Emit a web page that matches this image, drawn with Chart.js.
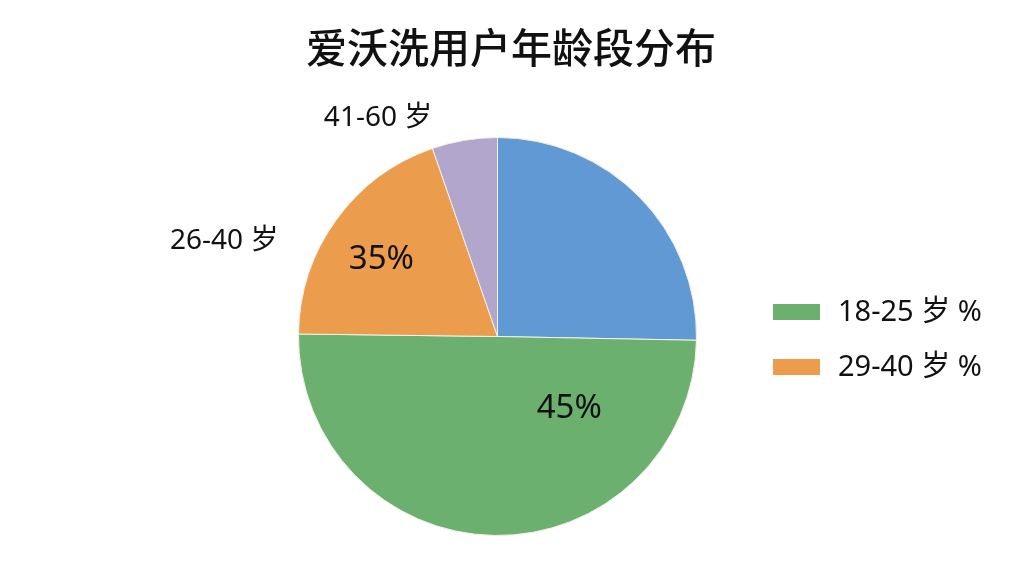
<!DOCTYPE html>
<html><head><meta charset="utf-8">
<script src="https://cdn.jsdelivr.net/npm/chart.js@4.4.1/dist/chart.umd.min.js"></script>
<style>html,body{margin:0;padding:0;background:#fff;}#wrap{width:1024px;height:576px;position:relative;}</style>
</head><body><div id="wrap"><canvas id="c" width="1024" height="576"></canvas></div>
<script>
const title = '爱沃洗用户年龄段分布';
const categories = ['18-25 岁', '26-40 岁(上)', '26-40 岁', '41-60 岁'];
const values = [25.3, 49.9, 19.5, 5.3];
const colors = ['#6199d4', '#6cb070', '#eb9d4d', '#b3a6cc'];
const sliceTexts = ['', '45%', '35%', ''];
const outerTexts = ['', '', '26-40 岁', '41-60 岁'];
const legendTexts = ['18-25 岁 %', '29-40 岁 %'];
const legendColors = ['#6cb070', '#eb9d4d'];

const FONT = '"Noto Sans", "Noto Sans CJK SC", sans-serif';

const labelPlugin = {
  id: 'labelPlugin',
  afterDraw(chart, args, opts) {
    const ctx = chart.ctx;
    const meta = chart.getDatasetMeta(0);
    ctx.save();
    ctx.fillStyle = '#111';
    ctx.textAlign = 'center';
    ctx.textBaseline = 'middle';
    // title
    ctx.font = '500 41px "Noto Sans CJK SC", sans-serif';
    ctx.fillText(title, opts.titleX, opts.titleY);
    meta.data.forEach((arc, i) => {
      const p = opts.place[i];
      if (!p) return;
      const a = (p.angle - 90) * Math.PI / 180;
      if (sliceTexts[i]) {
        ctx.font = p.inSize + 'px ' + FONT;
        ctx.fillText(sliceTexts[i], arc.x + Math.cos(a) * arc.outerRadius * p.inR, arc.y + Math.sin(a) * arc.outerRadius * p.inR);
      }
      if (outerTexts[i]) {
        const b = (p.outAngle - 90) * Math.PI / 180;
        ctx.font = '28px ' + FONT;
        ctx.fillText(outerTexts[i], arc.x + Math.cos(b) * arc.outerRadius * p.outR, arc.y + Math.sin(b) * arc.outerRadius * p.outR);
      }
    });
    // legend
    ctx.textAlign = 'left';
    ctx.font = '29px ' + FONT;
    legendTexts.forEach((t, i) => {
      const y = opts.legendY + i * opts.legendGap;
      ctx.fillStyle = legendColors[i];
      ctx.fillRect(opts.legendX, y - 8, 47, 16);
      ctx.fillStyle = '#111';
      ctx.fillText(t, opts.legendX + 65, y + 1);
    });
    ctx.restore();
  }
};

new Chart(document.getElementById('c'), {
  type: 'pie',
  data: {
    labels: categories,
    datasets: [{
      data: values,
      backgroundColor: colors,
      borderColor: '#f4f1ea',
      borderWidth: 1
    }]
  },
  options: {
    responsive: false,
    animation: false,
    layout: { padding: { top: 137, bottom: 40, left: 0, right: 29 } },
    plugins: {
      legend: { display: false },
      tooltip: { enabled: false },
      labelPlugin: {
        titleX: 511, titleY: 47,
        legendX: 773, legendY: 312, legendGap: 55,
        place: [
          null,
          { angle: 135, inR: 0.51, inSize: 33 },
          { angle: 303.5, inR: 0.70, inSize: 33, outAngle: 289.3, outR: 1.455 },
          { angle: 350, inR: 0.7, inSize: 33, outAngle: 331.3, outR: 1.25 }
        ]
      }
    }
  },
  plugins: [labelPlugin]
});
</script></body></html>
